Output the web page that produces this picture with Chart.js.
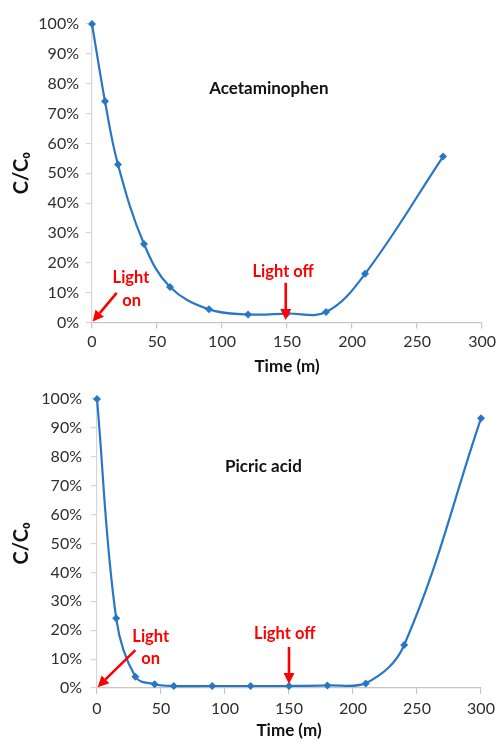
<!DOCTYPE html>
<html>
<head>
<meta charset="utf-8">
<script src="https://cdn.jsdelivr.net/npm/chart.js@4.4.1/dist/chart.umd.min.js"></script>
<style>
  html, body { margin: 0; padding: 0; background: #ffffff; }
  body { width: 500px; height: 742px; position: relative; overflow: hidden; }
  .box { position: absolute; left: 0; width: 500px; }
  #boxA { top: 0; height: 380px; }
  #boxP { top: 380px; height: 362px; }
</style>
</head>
<body>
<div class="box" id="boxA"><canvas id="chartA" width="500" height="380"></canvas></div>
<div class="box" id="boxP"><canvas id="chartP" width="500" height="362"></canvas></div>
<script>
// ---- data ----
const timeAcet = [0, 10, 20, 40, 60, 90, 120, 150, 180, 210, 270];
const acetaminophen = [100, 74.1, 52.9, 26.3, 11.9, 4.4, 2.7, 3.0, 3.5, 16.3, 55.6];

const timePicric = [0, 15, 30, 45, 60, 90, 120, 150, 180, 210, 240, 300];
const picricAcid = [100, 24.1, 3.9, 1.3, 0.7, 0.7, 0.7, 0.7, 0.9, 1.6, 14.9, 93.3];

const timeTicks = [0, 50, 100, 150, 200, 250, 300];
const percentTicks = [0, 10, 20, 30, 40, 50, 60, 70, 80, 90, 100];

const xTitle = 'Time (m)';
const yTitle = 'C/C\u2080';

// ---- styling ----
const FONT = "Lato, 'DejaVu Sans', sans-serif";
const LINE_BLUE = '#2777c6';
const AXIS_GREY = '#c6c6c6';
const TICK_TEXT = '#2e2e2e';
const RED = '#ff0000';

function toPoints(xs, ys) { return xs.map((t, i) => ({ x: t, y: ys[i] })); }

function drawArrow(ctx, x1, y1, x2, y2) {
  const head = 11, half = 5.5;
  const ang = Math.atan2(y2 - y1, x2 - x1);
  const bx = x2 - head * Math.cos(ang), by = y2 - head * Math.sin(ang);
  ctx.strokeStyle = RED; ctx.fillStyle = RED; ctx.lineWidth = 2.6;
  ctx.beginPath(); ctx.moveTo(x1, y1); ctx.lineTo(bx, by); ctx.stroke();
  ctx.beginPath();
  ctx.moveTo(x2, y2);
  ctx.lineTo(bx + half * Math.sin(ang), by - half * Math.cos(ang));
  ctx.lineTo(bx - half * Math.sin(ang), by + half * Math.cos(ang));
  ctx.closePath(); ctx.fill();
}

const annotPlugin = {
  id: 'annot',
  afterDatasetsDraw(chart, args, opts) {
    const { ctx } = chart;
    const xs = chart.scales.x, ys = chart.scales.y;
    ctx.save();
    (opts.texts || []).forEach(t => {
      ctx.font = t.font;
      ctx.fillStyle = t.color;
      ctx.textAlign = 'center';
      ctx.textBaseline = 'middle';
      ctx.fillText(t.text, xs.getPixelForValue(t.x), ys.getPixelForValue(t.y));
    });
    (opts.arrows || []).forEach(a => {
      drawArrow(ctx, xs.getPixelForValue(a.x1), ys.getPixelForValue(a.y1),
                xs.getPixelForValue(a.x2), ys.getPixelForValue(a.y2));
    });
    ctx.restore();
  }
};

function makeChart(canvasId, xs, ys, cfg) {
  return new Chart(document.getElementById(canvasId), {
    type: 'line',
    data: {
      datasets: [{
        data: toPoints(xs, ys),
        borderColor: LINE_BLUE,
        backgroundColor: LINE_BLUE,
        borderWidth: 2.2,
        tension: 0.38,
        pointStyle: 'rectRot',
        pointRadius: 4,
        pointBorderWidth: 0,
        pointBackgroundColor: LINE_BLUE,
        fill: false,
        clip: false
      }]
    },
    options: {
      responsive: false,
      animation: false,
      devicePixelRatio: 1,
      layout: { padding: cfg.padding },
      plugins: {
        legend: { display: false },
        tooltip: { enabled: false },
        annot: { texts: cfg.texts, arrows: cfg.arrows }
      },
      scales: {
        x: {
          type: 'linear',
          min: timeTicks[0], max: timeTicks[timeTicks.length - 1],
          afterBuildTicks: s => { s.ticks = timeTicks.map(v => ({ value: v })); },
          afterFit: s => { s.height = cfg.xHeight; },
          grid: { display: true, drawOnChartArea: false, drawTicks: true, tickLength: 6, color: AXIS_GREY, lineWidth: 1.2 },
          border: { display: true, color: AXIS_GREY, width: 1.2 },
          ticks: { color: TICK_TEXT, font: { family: FONT, size: 16 }, padding: cfg.xTickPad, maxRotation: 0 },
          title: { display: true, text: xTitle, color: '#111', font: { family: FONT, size: 17, weight: 'bold' }, padding: { top: 0, bottom: cfg.xTitlePad } }
        },
        y: {
          type: 'linear',
          min: percentTicks[0], max: percentTicks[percentTicks.length - 1],
          afterBuildTicks: s => { s.ticks = percentTicks.map(v => ({ value: v })); },
          afterFit: s => { s.width = cfg.yWidth; },
          grid: { display: true, drawOnChartArea: false, drawTicks: true, tickLength: 6, color: '#d6d6d6', lineWidth: 1.2 },
          border: { display: true, color: '#d6d6d6', width: 1.2 },
          ticks: { color: TICK_TEXT, font: { family: FONT, size: 16 }, padding: cfg.yTickPad, callback: v => v + '%' },
          title: { display: true, text: yTitle, color: '#111', font: { family: FONT, size: 20, weight: 'bold' }, padding: { top: 10, bottom: 0 } }
        }
      }
    },
    plugins: [annotPlugin]
  });
}

const labelFont = 'bold 17px ' + FONT;
const redFont = 'bold 16.5px ' + FONT;

makeChart('chartA', timeAcet, acetaminophen, {
  padding: { left: 0, top: 24, right: 14, bottom: 0 },
  xHeight: 57.5, yWidth: 92, xTickPad: 4, yTickPad: 7, xTitlePad: 3,
  texts: [
    { text: 'Acetaminophen', x: 136, y: 78.4, font: labelFont, color: '#111' },
    { text: 'Light', x: 30, y: 14.9, font: redFont, color: RED },
    { text: 'on', x: 30.5, y: 7.3, font: redFont, color: RED },
    { text: 'Light off', x: 147, y: 17, font: redFont, color: RED }
  ],
  arrows: [
    { x1: 19, y1: 9.9, x2: 0.5, y2: 0.3 },
    { x1: 149, y1: 13.3, x2: 149, y2: 0.8 }
  ]
});

makeChart('chartP', timePicric, picricAcid, {
  padding: { left: 0, top: 19, right: 19, bottom: 0 },
  xHeight: 54, yWidth: 97, xTickPad: 5, yTickPad: 9, xTitlePad: 1,
  texts: [
    { text: 'Picric acid', x: 130, y: 76.5, font: labelFont, color: '#111' },
    { text: 'Light', x: 42, y: 17.6, font: redFont, color: RED },
    { text: 'on', x: 42, y: 10, font: redFont, color: RED },
    { text: 'Light off', x: 146.7, y: 18.7, font: redFont, color: RED }
  ],
  arrows: [
    { x1: 30, y1: 13.1, x2: 0.5, y2: 0.3 },
    { x1: 150, y1: 14.2, x2: 150, y2: 1.4 }
  ]
});
</script>
</body>
</html>
